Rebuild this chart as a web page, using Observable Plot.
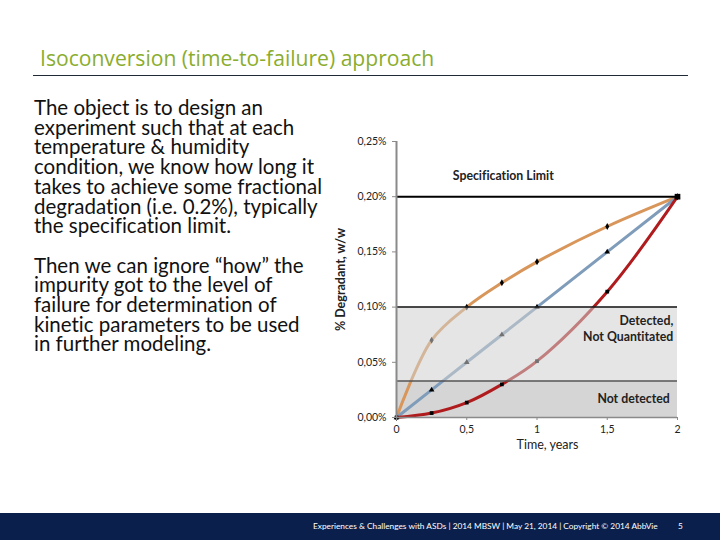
<!DOCTYPE html>
<html><head><meta charset="utf-8">
<script src="https://cdn.jsdelivr.net/npm/d3@7"></script>
<script src="https://cdn.jsdelivr.net/npm/@observablehq/plot@0.6"></script>
<style>
html,body{margin:0;padding:0;}
body{width:720px;height:540px;position:relative;overflow:hidden;background:#fff;font-family:Lato,"Noto Sans",sans-serif;font-variant-ligatures:none;}
#title{position:absolute;left:40px;top:43px;font-family:"Open Sans",sans-serif;font-size:21.1px;color:#8aad2e;white-space:nowrap;}
#rule{position:absolute;left:33px;top:75px;width:655px;height:1px;background:#1f2a36;}
#text{position:absolute;left:34px;top:98px;font-size:20.5px;line-height:19.7px;color:#111;white-space:pre;}
#chart{position:absolute;left:320px;top:120px;}
#chart svg text{font-variant-ligatures:none;}
#footer{position:absolute;left:0;top:513px;width:720px;height:27px;background:#0b1f4c;color:#fff;font-size:8.3px;}
#footer .f1{position:absolute;left:313px;top:8px;white-space:nowrap;}
#footer .f2{position:absolute;left:678px;top:8px;}
</style></head><body>
<div id="title">Isoconversion (time-to-failure) approach</div>
<div id="rule"></div>
<div id="text">The object is to design an
experiment such that at each
temperature &amp; humidity
condition, we know how long it
takes to achieve some fractional
degradation (i.e. 0.2%), typically
the specification limit.

Then we can ignore “how” the
impurity got to the level of
failure for determination of
kinetic parameters to be used
in further modeling.</div>
<div id="chart"></div>
<div id="footer"><span class="f1">Experiences &amp; Challenges with ASDs | 2014 MBSW | May 21, 2014 | Copyright © 2014 AbbVie</span><span class="f2">5</span></div>
<script>
// time, years
const times = [0, 0.25, 0.5, 0.75, 1, 1.5, 2];
// % degradant, w/w
const fastSeries   = [0, 0.070, 0.100, 0.122, 0.141, 0.173, 0.200];
const linearSeries = [0, 0.025, 0.050, 0.075, 0.100, 0.150, 0.200];
const slowSeries   = [0, 0.004, 0.0135, 0.030, 0.051, 0.114, 0.200];
const seriesNames = ["fast", "linear", "slow"];
const seriesColors = ["#d8965a", "#7f9cba", "#b01c1e"];
const seriesSymbols = ["diamond", "triangle", "square"];
const specLimit = 0.20;
const quantLimit = 0.10;
const detectLimit = 0.033;
const yTicks = [0, 0.05, 0.10, 0.15, 0.20, 0.25];
const xTicks = [0, 0.5, 1, 1.5, 2];
const labelSpec = "Specification Limit";
const labelDetected = "Detected,\nNot Quantitated";
const labelNotDetected = "Not detected";
const xLabel = "Time, years";
const yLabel = "% Degradant, w/w";

const allSeries = [fastSeries, linearSeries, slowSeries];
const rows = [];
allSeries.forEach((s, k) => times.forEach((t, i) => rows.push({t, v: s[i], series: seriesNames[k]})));
const endPoint = [{t: times[times.length - 1], v: specLimit}];
const comma = d => String(d).replace(".", ",");
const fmtY = d => d.toFixed(2).replace(".", ",") + "%";

const plot = Plot.plot({
  width: 390, height: 345,
  marginLeft: 76, marginRight: 33, marginTop: 21, marginBottom: 48,
  style: {fontFamily: "Lato, 'Noto Sans', sans-serif", fontSize: "10.5px", color: "#222", overflow: "visible"},
  x: {domain: [0, 2]},
  y: {domain: [0, 0.25]},
  color: {domain: seriesNames, range: seriesColors},
  symbol: {domain: seriesNames, range: seriesSymbols},
  marks: [
    Plot.rect([{x1: 0, x2: 2, y1: 0, y2: detectLimit}], {x1: "x1", x2: "x2", y1: "y1", y2: "y2", fill: "#d5d5d5"}),
    Plot.line(rows.filter(d => d.series === "fast"), {x: "t", y: "v", stroke: "series", strokeWidth: 3, curve: "catmull-rom"}),
    Plot.line(rows.filter(d => d.series === "linear"), {x: "t", y: "v", stroke: "series", strokeWidth: 3}),
    Plot.line(rows.filter(d => d.series === "slow"), {x: "t", y: "v", stroke: "series", strokeWidth: 3, curve: "catmull-rom"}),
    Plot.dot(rows, {x: "t", y: "v", symbol: "series", fill: "black", r: 2.1}),
    Plot.dot(endPoint, {x: "t", y: "v", symbol: "square", fill: "black", r: 3.2}),
    Plot.rect([{x1: 0, x2: 2, y1: detectLimit, y2: quantLimit}], {x1: "x1", x2: "x2", y1: "y1", y2: "y2", fill: "#cfcfcf", fillOpacity: 0.55}),
    Plot.ruleY([specLimit], {x1: 0, x2: 2, stroke: "black", strokeWidth: 2}),
    Plot.ruleY([quantLimit], {x1: 0, x2: 2, stroke: "#111", strokeWidth: 1.5}),
    Plot.ruleY([detectLimit], {x1: 0, x2: 2, stroke: "#555", strokeWidth: 1.5}),
    Plot.ruleY([0], {x1: 0, x2: 2, stroke: "#8a8a8a", strokeWidth: 1.5}),
    Plot.ruleX([0], {y1: 0, y2: 0.25, stroke: "#8a8a8a", strokeWidth: 2}),
    Plot.axisY({ticks: yTicks, tickFormat: fmtY, tickSize: 4, tickPadding: 6, label: null, stroke: "#8a8a8a"}),
    Plot.axisX({ticks: xTicks, tickFormat: comma, tickSize: 3, tickPadding: 5, label: null, stroke: "#8a8a8a"}),
    Plot.text([xLabel], {frameAnchor: "bottom", x: () => 1.075, dy: 31, fontSize: 12.5, textAnchor: "middle"}),
    Plot.text([yLabel], {frameAnchor: "left", rotate: -90, dx: -56, fontSize: 12.5, fontWeight: "bold", textAnchor: "middle"}),
    Plot.text([labelSpec], {x: () => 0.76, y: () => 0.219, fontSize: 12.3, fontWeight: "bold"}),
    Plot.text([labelDetected], {x: () => 1.97, y: () => 0.081, textAnchor: "end", fontSize: 12.3, fontWeight: "bold", lineHeight: 1.3}),
    Plot.text([labelNotDetected], {x: () => 1.945, y: () => 0.0163, textAnchor: "end", fontSize: 12.3, fontWeight: "bold"})
  ]
});
document.getElementById("chart").append(plot);
</script>
</body></html>
